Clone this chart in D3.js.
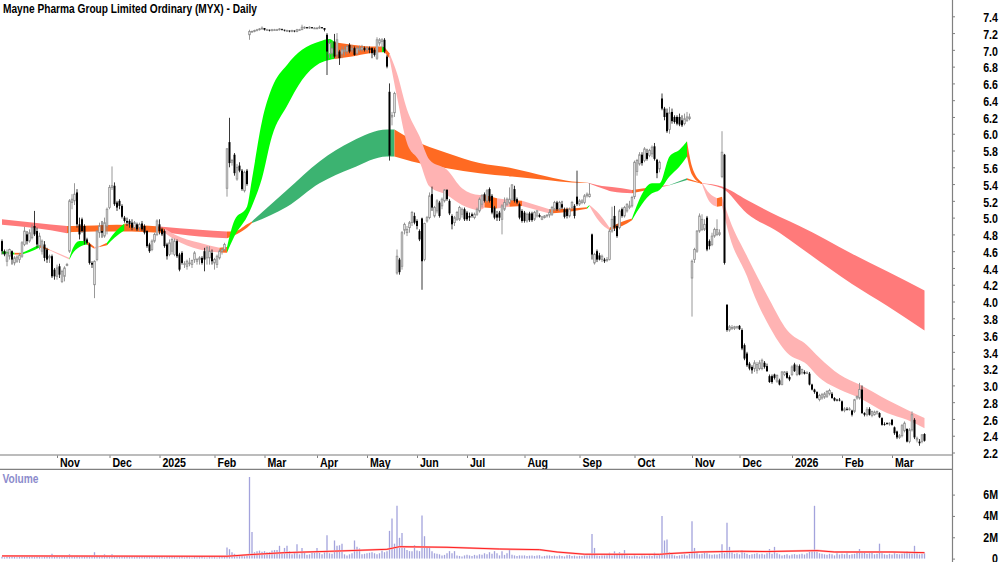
<!DOCTYPE html>
<html>
<head>
<meta charset="utf-8">
<script src="https://cdn.jsdelivr.net/npm/d3@7"></script>
<style>
  html, body { margin: 0; padding: 0; background: #fff; overflow: hidden; }
  text { font-family: "Liberation Sans", Arial, sans-serif; font-weight: bold; }
</style>
</head>
<body>
<script>
// Daily candles, one entry per trading day, 10 per row
const opens = [
  4.72,4.60,4.48,4.54,4.60,4.46,4.48,4.50,4.54,4.68,
  4.80,4.72,4.76,4.90,4.84,4.66,4.60,4.68,4.62,4.52,
  4.54,4.38,4.30,4.42,4.24,4.30,4.44,4.60,5.18,5.20,
  5.30,4.92,4.98,4.90,4.74,4.68,4.46,4.20,4.50,4.82,
  4.84,4.78,4.90,5.12,5.36,5.38,5.18,5.20,5.14,5.00,
  4.96,4.96,4.94,4.88,4.92,4.88,4.93,4.90,4.84,4.68,
  4.62,4.72,4.80,4.92,4.86,4.84,4.68,4.56,4.60,4.56,
  4.72,4.56,4.58,4.44,4.42,4.45,4.44,4.50,4.48,4.50,
  4.52,4.60,4.52,4.52,4.58,4.46,4.44,4.52,4.60,4.62,
  5.35,5.90,5.66,5.75,5.46,5.62,5.56,5.32,5.56,7.18,
  7.22,7.22,7.23,7.24,7.25,7.26,7.24,7.24,7.23,7.24,
  7.24,7.24,7.25,7.24,7.23,7.23,7.22,7.23,7.22,7.24,
  7.24,7.27,7.27,7.26,7.27,7.26,7.26,7.26,7.27,7.26,
  7.18,6.95,6.96,7.10,6.94,6.98,6.95,6.98,6.98,7.06,
  7.00,7.02,6.96,7.00,7.00,7.02,7.00,7.02,7.02,7.00,
  6.90,7.08,7.10,7.12,6.92,6.50,6.20,6.25,4.34,4.50,
  4.42,4.85,4.82,4.88,4.94,5.02,4.96,4.84,4.99,4.50,
  4.96,5.00,5.28,5.02,5.08,5.18,5.14,5.20,5.33,5.20,
  5.02,4.94,4.98,4.98,5.04,5.10,5.06,5.02,5.04,5.00,
  5.04,5.08,5.16,5.28,5.20,5.34,5.26,5.12,5.04,5.06,
  4.98,5.10,5.16,5.18,5.22,5.34,5.22,5.16,5.08,5.06,
  4.96,5.05,5.05,4.98,5.02,5.03,4.98,5.00,5.02,5.03,
  5.04,5.10,5.18,5.10,5.16,5.10,5.10,5.02,5.12,5.14,
  5.25,5.16,5.18,5.18,5.26,5.25,4.80,4.46,4.60,4.55,
  4.50,4.50,4.49,4.50,4.84,5.02,4.90,4.88,5.10,5.02,
  5.08,5.12,5.14,5.25,5.55,5.64,5.75,5.68,5.77,5.74,
  5.76,5.85,5.69,5.58,6.42,6.30,6.25,6.05,6.26,6.20,
  6.20,6.20,6.16,6.12,6.16,6.18,4.28,4.50,4.60,4.84,
  4.86,4.86,5.00,4.72,4.68,4.78,4.80,4.80,5.49,5.75,
  3.96,3.66,3.68,3.68,3.69,3.71,3.66,3.48,3.38,3.26,
  3.22,3.20,3.18,3.20,3.20,3.27,3.23,3.11,3.11,3.13,
  3.05,3.06,3.01,3.13,3.15,3.10,3.13,3.25,3.13,3.23,
  3.15,3.16,3.15,3.14,3.01,2.95,2.92,2.83,2.85,2.86,
  2.87,2.90,2.90,2.85,2.83,2.83,2.81,2.70,2.72,2.71,
  2.70,2.69,2.85,2.85,2.95,2.67,2.65,2.72,2.64,2.65,
  2.67,2.67,2.61,2.54,2.55,2.54,2.59,2.50,2.45,2.38,
  2.40,2.46,2.48,2.33,2.47,2.59,2.35,2.33,2.33,2.42
];
const highs = [
  4.74,4.62,4.62,4.63,4.61,4.54,4.55,4.58,4.72,4.89,
  4.84,4.86,4.92,5.08,4.88,4.82,4.74,4.72,4.64,4.56,
  4.56,4.40,4.44,4.45,4.38,4.42,4.46,5.22,5.28,5.41,
  5.34,5.00,5.00,4.92,4.76,4.70,4.48,4.49,4.85,4.94,
  4.96,5.00,5.12,5.39,5.61,5.42,5.20,5.22,5.16,5.02,
  5.00,4.98,4.98,4.96,4.94,4.94,4.96,4.92,4.85,4.70,
  4.74,4.82,4.98,4.98,4.88,4.86,4.70,4.74,4.76,4.75,
  4.74,4.58,4.60,4.48,4.50,4.52,4.50,4.60,4.52,4.54,
  4.54,4.64,4.66,4.66,4.62,4.52,4.56,4.62,4.64,4.70,
  5.83,6.19,5.70,5.77,5.64,5.66,5.58,5.56,5.58,7.24,
  7.23,7.24,7.25,7.26,7.28,7.26,7.25,7.24,7.25,7.25,
  7.25,7.26,7.25,7.24,7.24,7.23,7.24,7.23,7.25,7.25,
  7.30,7.28,7.27,7.28,7.27,7.27,7.27,7.29,7.27,7.26,
  7.20,7.12,7.10,7.19,7.20,7.00,7.04,7.04,7.06,7.08,
  7.06,7.04,7.04,7.05,7.06,7.04,7.04,7.04,7.03,7.02,
  7.15,7.14,7.14,7.14,6.94,6.60,6.26,6.50,4.62,4.52,
  4.84,4.94,4.90,4.96,5.08,5.06,4.98,4.86,5.00,4.94,
  5.02,5.30,5.37,5.14,5.22,5.20,5.24,5.34,5.34,5.22,
  5.04,5.02,5.08,5.14,5.12,5.12,5.08,5.06,5.06,5.06,
  5.12,5.24,5.28,5.30,5.34,5.36,5.28,5.14,5.08,5.08,
  5.16,5.24,5.24,5.36,5.40,5.38,5.24,5.18,5.10,5.08,
  5.06,5.07,5.07,5.08,5.09,5.05,5.02,5.03,5.04,5.10,
  5.14,5.20,5.20,5.20,5.20,5.12,5.12,5.12,5.20,5.16,
  5.56,5.22,5.22,5.28,5.30,5.41,4.81,4.58,4.62,4.58,
  4.56,4.52,4.53,4.86,5.13,5.14,4.92,5.10,5.12,5.14,
  5.17,5.20,5.26,5.68,5.70,5.78,5.78,5.84,5.82,5.82,
  5.86,5.89,5.70,5.68,6.48,6.32,6.30,6.32,6.30,6.22,
  6.22,6.24,6.22,6.24,6.26,6.24,4.50,4.64,4.85,5.05,
  5.04,4.98,5.02,4.74,4.82,4.88,4.98,4.86,6.03,5.76,
  3.97,3.72,3.72,3.71,3.71,3.72,3.68,3.50,3.40,3.28,
  3.24,3.30,3.28,3.30,3.32,3.29,3.26,3.13,3.13,3.14,
  3.13,3.08,3.17,3.17,3.17,3.12,3.24,3.27,3.25,3.25,
  3.20,3.18,3.17,3.16,3.02,2.96,2.93,2.90,2.91,2.92,
  2.94,2.96,2.92,2.86,2.84,2.85,2.82,2.74,2.74,2.74,
  2.71,2.84,2.88,3.03,3.00,2.68,2.74,2.74,2.70,2.70,
  2.70,2.68,2.62,2.56,2.56,2.56,2.60,2.51,2.46,2.42,
  2.54,2.57,2.49,2.49,2.69,2.61,2.39,2.36,2.42,2.43
];
const lows = [
  4.56,4.54,4.42,4.50,4.44,4.43,4.46,4.46,4.52,4.66,
  4.68,4.70,4.74,4.78,4.64,4.62,4.56,4.48,4.46,4.46,
  4.28,4.26,4.26,4.28,4.22,4.24,4.42,4.58,5.10,5.15,
  4.88,4.74,4.82,4.68,4.68,4.44,4.40,4.04,4.48,4.76,
  4.76,4.76,4.80,5.10,5.33,5.14,5.08,5.10,4.99,4.94,
  4.90,4.88,4.85,4.86,4.84,4.84,4.84,4.80,4.64,4.58,
  4.60,4.70,4.78,4.80,4.78,4.64,4.50,4.54,4.56,4.54,
  4.52,4.36,4.44,4.40,4.38,4.42,4.40,4.46,4.44,4.44,
  4.44,4.36,4.44,4.44,4.44,4.38,4.40,4.50,4.56,4.60,
  5.25,5.60,5.62,5.50,5.44,5.54,5.32,5.30,5.38,7.12,
  7.21,7.21,7.22,7.23,7.24,7.23,7.23,7.22,7.22,7.23,
  7.23,7.23,7.23,7.22,7.22,7.21,7.21,7.21,7.21,7.23,
  7.24,7.25,7.25,7.25,7.25,7.25,7.25,7.25,7.25,7.22,
  6.70,6.90,6.90,6.90,6.90,6.82,6.90,6.93,6.95,6.96,
  6.97,6.93,6.94,6.98,6.98,6.98,6.98,6.96,6.90,6.92,
  6.88,7.05,7.02,6.96,6.78,5.68,6.10,6.20,4.32,4.32,
  4.38,4.80,4.78,4.82,4.90,4.92,4.86,4.72,4.14,4.48,
  4.94,4.98,5.08,5.00,5.05,5.00,5.10,5.18,5.20,5.03,
  4.86,4.90,4.96,4.96,5.00,4.96,4.96,4.96,5.00,4.98,
  5.02,5.06,5.12,5.18,5.18,5.18,5.04,4.98,4.96,4.96,
  4.80,5.08,5.14,5.16,5.20,5.18,5.16,4.98,4.94,4.94,
  4.94,4.95,4.95,4.96,5.00,5.00,4.97,4.99,5.00,5.00,
  5.02,5.08,5.08,5.08,5.10,4.99,4.99,5.00,5.10,4.99,
  5.14,5.14,5.16,5.16,5.24,5.24,4.50,4.44,4.47,4.49,
  4.47,4.46,4.47,4.49,4.82,4.84,4.76,4.86,5.00,5.00,
  5.06,5.10,5.12,5.22,5.50,5.62,5.62,5.66,5.68,5.72,
  5.72,5.68,5.47,5.54,6.28,6.16,6.01,6.00,6.12,6.12,
  6.10,6.09,6.08,6.10,6.14,6.16,3.82,4.46,4.58,4.82,
  4.84,4.84,4.60,4.62,4.66,4.76,4.78,4.78,5.47,4.44,
  3.64,3.64,3.66,3.66,3.67,3.66,3.42,3.30,3.22,3.18,
  3.14,3.16,3.14,3.18,3.18,3.20,3.16,3.03,3.02,3.07,
  3.03,3.00,3.00,3.11,3.08,3.05,3.11,3.16,3.11,3.12,
  3.13,3.13,3.14,3.00,2.94,2.90,2.84,2.81,2.83,2.84,
  2.85,2.88,2.84,2.81,2.81,2.81,2.69,2.68,2.70,2.70,
  2.63,2.67,2.83,2.83,2.66,2.63,2.63,2.64,2.62,2.64,
  2.65,2.61,2.52,2.52,2.53,2.52,2.52,2.41,2.36,2.36,
  2.38,2.44,2.32,2.31,2.45,2.36,2.32,2.28,2.31,2.33
];
const closes = [
  4.60,4.56,4.58,4.62,4.50,4.52,4.53,4.55,4.70,4.84,
  4.72,4.82,4.88,4.80,4.68,4.78,4.72,4.52,4.50,4.54,
  4.30,4.30,4.40,4.32,4.36,4.40,4.44,5.20,5.22,5.28,
  4.92,4.80,4.84,4.72,4.70,4.46,4.44,4.48,4.84,4.90,
  4.82,4.94,5.10,5.36,5.38,5.16,5.12,5.14,5.01,4.96,
  4.94,4.92,4.88,4.94,4.86,4.92,4.86,4.82,4.66,4.60,
  4.72,4.80,4.96,4.84,4.80,4.66,4.54,4.70,4.74,4.72,
  4.54,4.38,4.46,4.45,4.48,4.46,4.49,4.58,4.50,4.52,
  4.46,4.50,4.64,4.60,4.48,4.50,4.54,4.60,4.62,4.68,
  5.82,5.65,5.68,5.53,5.60,5.56,5.34,5.54,5.40,7.22,
  7.22,7.23,7.24,7.25,7.26,7.24,7.24,7.23,7.24,7.24,
  7.24,7.25,7.24,7.23,7.23,7.22,7.23,7.22,7.24,7.24,
  7.27,7.27,7.26,7.27,7.26,7.26,7.26,7.27,7.26,7.24,
  6.98,7.08,7.02,6.92,7.12,6.90,7.00,7.00,7.04,6.98,
  7.02,6.94,7.02,7.02,7.03,7.00,7.02,7.00,6.96,6.94,
  7.12,7.12,7.12,6.98,6.80,5.74,6.22,6.48,4.54,4.35,
  4.82,4.92,4.86,4.94,5.06,4.94,4.90,4.74,4.48,4.93,
  5.00,5.26,5.12,5.12,5.20,5.02,5.22,5.33,5.22,5.05,
  4.92,5.00,5.06,5.12,5.10,4.98,4.98,5.00,5.02,5.04,
  5.10,5.22,5.26,5.20,5.32,5.20,5.06,5.00,5.00,5.00,
  5.14,5.18,5.22,5.22,5.39,5.20,5.18,5.00,4.96,4.96,
  5.04,4.97,4.97,5.06,5.08,5.01,5.01,5.02,5.03,5.06,
  5.12,5.18,5.10,5.18,5.12,5.01,5.02,5.10,5.18,5.02,
  5.16,5.20,5.20,5.26,5.28,5.28,4.56,4.56,4.50,4.50,
  4.54,4.48,4.50,4.84,4.98,4.88,4.78,5.08,5.02,5.12,
  5.16,5.14,5.24,5.66,5.68,5.75,5.65,5.82,5.70,5.80,
  5.84,5.70,5.53,5.66,6.30,6.20,6.03,6.25,6.15,6.14,
  6.12,6.11,6.10,6.18,6.20,6.20,4.48,4.62,4.84,5.02,
  4.98,4.92,4.62,4.66,4.78,4.86,4.86,4.82,5.78,4.46,
  3.66,3.70,3.69,3.70,3.70,3.67,3.44,3.32,3.24,3.20,
  3.18,3.27,3.25,3.27,3.30,3.22,3.17,3.04,3.04,3.09,
  3.12,3.01,3.16,3.16,3.09,3.07,3.22,3.17,3.23,3.13,
  3.19,3.14,3.15,3.01,2.95,2.92,2.85,2.88,2.89,2.90,
  2.93,2.94,2.85,2.82,2.82,2.82,2.70,2.72,2.71,2.72,
  2.65,2.83,2.87,2.95,2.67,2.65,2.71,2.65,2.69,2.68,
  2.69,2.62,2.53,2.53,2.54,2.55,2.53,2.43,2.38,2.40,
  2.52,2.55,2.33,2.47,2.65,2.38,2.37,2.31,2.41,2.34
];
// Daily volume in millions
const volumes = [
  .18,.12,.15,.2,.14,.16,.12,.18,.2,.15,
  .22,.16,.2,.14,.18,.16,.12,.2,.15,.18,
  .45,.16,.2,.14,.18,.15,.2,.4,.18,.22,
  .3,.22,.15,.2,.18,.16,.25,.6,.3,.22,
  .2,.4,.22,.18,.4,.2,.18,.15,.2,.18,
  .16,.2,.22,.14,.18,.2,.15,.18,.22,.25,
  .16,.14,.2,.18,.15,.12,.16,.2,.14,.18,
  .12,.15,.18,.12,.16,.14,.1,.15,.12,.16,
  .14,.12,.1,.15,.12,.14,.1,.16,.14,.18,
  1.03,.88,.6,.45,.3,.25,.3,.22,.28,7.65,
  2.5,.6,.7,.75,.65,.7,.6,.62,.75,.8,
  .8,1.2,.6,1.0,1.2,.7,.4,.6,1.35,.4,
  1.0,.6,.35,.4,.6,.55,1.0,.55,.4,.6,
  2.2,.5,.45,1.7,1.2,1.25,1.4,.4,.3,.4,
  .5,1.7,1.1,.95,.4,.45,.5,.55,.6,.5,
  .4,.5,.75,.6,.7,2.6,3.75,1.4,4.95,1.95,
  2.4,1.1,.8,.7,.7,1.25,.75,.7,4.05,2.1,
  1.0,1.0,.7,.5,.45,.4,.3,.35,.5,.7,
  .5,.7,.3,.25,.2,.3,.35,.3,.25,.35,
  .3,.4,.35,.5,.4,.6,.45,.7,.5,.3,
  .7,.35,.5,.85,.35,.3,.25,.3,.28,.3,
  .25,.28,.3,.25,.28,.32,.2,.25,.28,.3,
  .25,.28,.22,.3,.25,.2,.32,.35,.25,.28,
  .22,.26,.25,.3,.28,.3,2.3,1.0,.3,.25,
  .28,.3,.32,.55,.3,.68,.35,.6,.4,.8,
  .3,.25,.22,.3,.25,.2,.3,.28,.24,.3,
  .25,.55,.3,.35,4.0,1.7,1.8,.6,.4,.3,
  .25,.3,.35,.4,.3,.45,3.5,1.0,.5,.4,
  .45,.6,.5,.4,.35,.4,.38,.45,1.35,.5,
  3.35,1.1,.6,.45,.5,.4,.8,.55,.45,.35,
  .4,.45,.5,.4,.45,.38,.5,.9,.45,1.1,
  .5,.4,.3,.35,.4,.3,.38,.42,.35,.4,
  .45,.38,.5,.65,.7,4.95,.7,.5,.45,.4,
  .35,.45,.4,.3,.5,.38,.45,.4,.5,.35,
  .4,.45,.55,.9,.5,.6,.45,.5,.55,.4,
  .45,1.4,.5,.4,.35,.45,.38,.5,.42,.4,
  .45,.5,.7,.5,.45,1.2,.5,.4,.45,.5
];
// Volume moving average, read at these bars
const volAvgIdx = [0,80,90,99,113,133,154,159,178,199,215,222,233,263,267,279,295,306,326,333,356,369];
const volAvg = [.25,.22,.22,.37,.56,.7,.87,1.12,1.06,.9,.84,.62,.41,.4,.47,.62,.69,.66,.75,.62,.62,.56];

// Short term ribbon: state belongs to the stretch starting at that bar
const shortIdx = [0,5,8,11,15,19,27,28,31,34,37,39,42,45,49,57,65,69,79,87,90,93,98,100,104,108,114,120,127,131,133,140,147,152,153,155,158,162,167,171,178,184,191,193,198,203,208,219,227,234,235,239,243,248,252,260,263,267,271,274,276,280,283,286,288,291,298,300,307,314,322,327,335,343,354,362,369];
const shortTop = [4.60,4.58,4.58,4.62,4.68,4.62,4.52,4.61,4.72,4.72,4.65,4.66,4.70,4.82,4.93,4.89,4.87,4.80,4.70,4.64,4.65,4.97,5.13,5.46,6.15,6.55,6.82,7.00,7.10,7.13,7.09,7.06,7.04,7.04,7.03,6.96,6.72,6.29,5.97,5.69,5.57,5.35,5.27,5.27,5.23,5.21,5.20,5.10,5.11,5.125,5.15,5.04,4.88,4.95,4.99,5.41,5.41,5.73,5.81,5.91,5.61,5.42,5.29,5.23,5.25,4.98,4.54,4.42,4.02,3.66,3.48,3.33,3.13,3.01,2.83,2.71,2.61];
const shortBot = [4.57,4.56,4.56,4.59,4.645,4.61,4.50,4.56,4.65,4.68,4.63,4.65,4.67,4.76,4.85,4.83,4.82,4.74,4.62,4.585,4.58,4.78,5.01,5.14,5.47,5.97,6.33,6.64,6.84,6.88,6.89,6.92,6.96,6.97,6.97,6.90,6.44,5.89,5.67,5.37,5.27,5.15,5.09,5.12,5.11,5.13,5.14,5.05,5.07,5.105,5.14,4.95,4.85,4.90,4.97,5.29,5.33,5.49,5.61,5.73,5.51,5.40,5.19,5.13,5.14,4.78,4.30,4.14,3.70,3.39,3.25,3.09,2.95,2.85,2.67,2.59,2.49];
const shortState = ['green','orange','green','green','orange','pink','green','green','green','orange','pink','orange','green','green','orange','orange','pink','pink','pink','orange','green','green','green','green','green','green','green','green','green','green','orange','orange','orange','green','orange','pink','pink','pink','pink','pink','pink','pink','pink','orange','pink','orange','pink','orange','orange','green','pink','pink','orange','orange','green','green','green','green','green','orange','orange','pink','pink','orange','pink','pink','pink','pink','pink','pink','pink','pink','pink','pink','pink','pink'];

// Long term ribbon
const longIdx = [0,13,26,28,46,63,79,90,93,98,100,114,127,140,154,157,164,178,191,204,218,228,234,242,244,252,264,267,274,280,288,298,311,319,340,354,369];
const longTop = [4.98,4.94,4.90,4.90,4.915,4.895,4.855,4.835,4.835,4.92,4.955,5.33,5.67,5.91,6.05,6.05,5.93,5.77,5.65,5.59,5.49,5.43,5.42,5.37,5.365,5.33,5.38,5.39,5.47,5.41,5.37,5.21,5.01,4.90,4.57,4.36,4.13];
const longBot = [4.915,4.875,4.815,4.83,4.835,4.835,4.775,4.755,4.79,4.88,4.935,5.13,5.41,5.59,5.73,5.73,5.67,5.59,5.53,5.49,5.45,5.42,5.415,5.33,5.31,5.29,5.365,5.385,5.45,5.405,5.35,5.05,4.82,4.65,4.21,3.95,3.655];
const longState = ['red','red','orange','orange','orange','red','red','orange','orange','orange','seagreen','seagreen','seagreen','seagreen','seagreen','orange','orange','orange','orange','orange','orange','orange','red','red','red','orange','red','seagreen','orange','red','red','red','red','red','red','red'];

const priceTicks = [2.2,2.4,2.6,2.8,3.0,3.2,3.4,3.6,3.8,4.0,4.2,4.4,4.6,4.8,5.0,5.2,5.4,5.6,5.8,6.0,6.2,6.4,6.6,6.8,7.0,7.2,7.4];
const volumeTicks = [0,2,4,6];
const monthIdx = [22,43,63,85,105,126,146,166,186,209,231,253,276,295,316,336,356];
const monthLabels = ['Nov','Dec','2025','Feb','Mar','Apr','May','Jun','Jul','Aug','Sep','Oct','Nov','Dec','2026','Feb','Mar'];

const stateColor = {
  green: '#00ff00',
  pink: '#ffb3b3',
  orange: '#ff6a22',
  red: '#ff7a7a',
  seagreen: '#3cb371'
};

const width = 1000;
const height = 562;
const axisX = 952;
const axisColor = '#808080';

const svg = d3.select('body').append('svg')
  .attr('width', width)
  .attr('height', height)
  .style('display', 'block');

// Scales
const x = d3.scaleLinear().domain([0, 369]).range([2, 924.5]);
const y = d3.scaleLinear().domain([2.2, 7.4]).range([452.5, 16.3]);
const yVol = d3.scaleLinear().domain([0, 6]).range([558.6, 494.6]);

// Draw one ribbon as runs of the same state
function drawRibbon(idx, top, bot, state) {
  const area = d3.area()
    .curve(d3.curveMonotoneX)
    .x(d => x(d.i))
    .y0(d => y(d.bot))
    .y1(d => y(d.top));
  const points = idx.map((d, i) => ({ i: d, top: top[i], bot: bot[i] }));
  let start = 0;
  for (let k = 1; k <= state.length; k++) {
    if (k === state.length || state[k] !== state[start]) {
      svg.append('path')
        .attr('d', area(points.slice(start, k + 1)))
        .attr('fill', stateColor[state[start]]);
      start = k;
    }
  }
}

drawRibbon(longIdx, longTop, longBot, longState);
drawRibbon(shortIdx, shortTop, shortBot, shortState);

// Candles
const candles = d3.range(opens.length).map(i => ({
  i: i, o: opens[i], h: highs[i], l: lows[i], c: closes[i]
}));
const candle = svg.append('g').selectAll('g')
  .data(candles)
  .enter().append('g');

candle.append('line')
  .attr('x1', d => x(d.i))
  .attr('x2', d => x(d.i))
  .attr('y1', d => y(d.h))
  .attr('y2', d => y(d.l))
  .attr('stroke', d => d.c >= d.o ? '#8c8c8c' : '#222')
  .attr('stroke-width', 0.9);

candle.append('rect')
  .attr('x', d => x(d.i) - (d.c >= d.o ? 0.8 : 1))
  .attr('width', d => d.c >= d.o ? 1.6 : 2)
  .attr('y', d => y(Math.max(d.o, d.c)))
  .attr('height', d => Math.max(0.8, Math.abs(y(d.o) - y(d.c))))
  .attr('fill', d => d.c >= d.o ? '#eeeeee' : '#000')
  .attr('stroke', d => d.c >= d.o ? '#8c8c8c' : 'none')
  .attr('stroke-width', 0.8);

// Volume bars and average
svg.append('g').selectAll('line')
  .data(volumes)
  .enter().append('line')
  .attr('x1', (d, i) => x(i))
  .attr('x2', (d, i) => x(i))
  .attr('y1', yVol(0))
  .attr('y2', d => yVol(d))
  .attr('stroke', '#a3a3dc')
  .attr('stroke-width', 1.3);

const avgLine = d3.line()
  .x((d, i) => x(volAvgIdx[i]))
  .y(d => yVol(d));
svg.append('path')
  .datum(volAvg)
  .attr('d', avgLine)
  .attr('fill', 'none')
  .attr('stroke', '#ffb0b0')
  .attr('stroke-width', 2);
svg.append('path')
  .datum(volAvg)
  .attr('d', avgLine)
  .attr('fill', 'none')
  .attr('stroke', '#ff1010')
  .attr('stroke-width', 0.9);

// Axes, the labels are squeezed a bit like the original narrow font
function styleAxis(g) {
  g.selectAll('path,line').attr('stroke', axisColor);
  g.selectAll('text')
    .attr('fill', '#000')
    .style('font-size', '12.5px')
    .style('font-weight', 'bold')
    .each(function () {
      this.setAttribute('textLength', this.getComputedTextLength() * 0.85);
      this.setAttribute('lengthAdjust', 'spacingAndGlyphs');
    });
}

const priceAxis = svg.append('g')
  .attr('transform', `translate(${axisX},0)`)
  .call(d3.axisRight(y).tickValues(priceTicks).tickFormat(d3.format('.1f')).tickSize(3).tickSizeOuter(0))
  .call(styleAxis);
priceAxis.select('.domain').remove();
priceAxis.selectAll('text').attr('x', 46).attr('dy', '0.42em').attr('text-anchor', 'end');

const volAxis = svg.append('g')
  .attr('transform', `translate(${axisX},0)`)
  .call(d3.axisRight(yVol).tickValues(volumeTicks).tickFormat(d => d === 0 ? '0' : d + 'M').tickSize(3).tickSizeOuter(0))
  .call(styleAxis);
volAxis.select('.domain').remove();
volAxis.selectAll('text').attr('x', 46).attr('text-anchor', 'end');

const timeAxis = svg.append('g')
  .attr('transform', 'translate(0,455)')
  .call(d3.axisBottom(x).tickValues(monthIdx).tickFormat((d, i) => monthLabels[i]).tickSize(3).tickSizeOuter(0))
  .call(styleAxis);
timeAxis.select('.domain').remove();
timeAxis.selectAll('text').attr('x', 2.4).attr('y', 11.8).attr('dy', 0).attr('text-anchor', 'start');

// Panel frame lines
svg.append('line').attr('x1', axisX + 0.5).attr('x2', axisX + 0.5).attr('y1', 0).attr('y2', height)
  .attr('stroke', axisColor).attr('stroke-width', 1.2);
svg.append('line').attr('x1', 0).attr('x2', axisX).attr('y1', 455).attr('y2', 455)
  .attr('stroke', '#a6a6a6').attr('stroke-width', 1.5);
svg.append('line').attr('x1', 0).attr('x2', axisX).attr('y1', 469.4).attr('y2', 469.4)
  .attr('stroke', axisColor).attr('stroke-width', 1.2);

// Titles
svg.append('text')
  .attr('x', 3).attr('y', 12.5)
  .attr('fill', '#000')
  .attr('textLength', 254)
  .attr('lengthAdjust', 'spacingAndGlyphs')
  .style('font-size', '12px')
  .text('Mayne Pharma Group Limited Ordinary (MYX) - Daily');
svg.append('text')
  .attr('x', 2.5).attr('y', 482.5)
  .attr('fill', '#8c8ccc')
  .attr('textLength', 36)
  .attr('lengthAdjust', 'spacingAndGlyphs')
  .style('font-size', '12px')
  .text('Volume');
</script>
</body>
</html>
